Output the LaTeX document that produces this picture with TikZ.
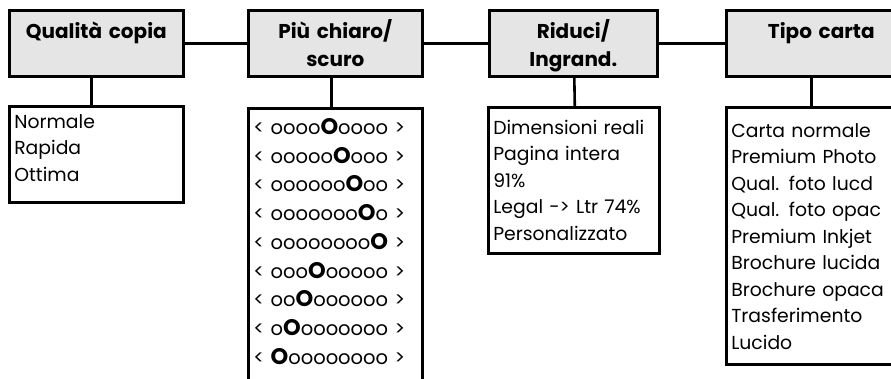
\documentclass[tikz,border=0pt]{standalone}
\usepackage{fontspec}
\setmainfont{Poppins}
\definecolor{headgray}{gray}{0.9}
\newcommand{\lvlO}{{\bfseries\fontsize{22.5}{0}\selectfont O}}

\begin{document}
\begin{tikzpicture}
  [x=1pt,y=-1pt,line width=2.6pt,
   head/.style={draw,fill=headgray,anchor=north west,align=center,
     inner xsep=4pt,inner ysep=0pt,text height=28pt,text depth=38pt,
     font=\bfseries\fontsize{20}{28}\selectfont},
   list/.style={draw,anchor=north west,align=left,inner xsep=5pt,inner ysep=0pt,
     font=\fontsize{18.8}{26.5}\selectfont}]
  \useasboundingbox (0,0) rectangle (891,378);

  \node[head,text width=166pt] (qual)   at (8,9)   {Qualità copia};
  \node[head,text width=166pt] (chiaro) at (247,9) {Più chiaro/\\scuro};
  \node[head,text width=160pt] (riduci) at (488,9) {Riduci/\\Ingrand.};
  \node[head,text width=182pt] (tipo)   at (725,9) {Tipo carta};

  \node[list,text width=164pt,text height=22pt,text depth=74pt] (qualsub) at (8,105)
    {Normale\\Rapida\\Ottima};
  \node[list,text width=164pt,text height=26pt,text depth=300pt,
    font=\fontsize{19.5}{28.75}\selectfont] (chiarosub) at (247,107)
    {< oooo\lvlO oooo >\\
     < ooooo\lvlO ooo >\\
     < oooooo\lvlO oo >\\
     < ooooooo\lvlO o >\\
     < oooooooo\lvlO{} >\\
     < ooo\lvlO ooooo >\\
     < oo\lvlO oooooo >\\
     < o\lvlO ooooooo >\\
     < \lvlO oooooooo >};
  \node[list,text width=161pt,text height=27pt,text depth=119pt] (ridsub) at (487,106)
    {Dimensioni reali\\Pagina intera\\91\%\\Legal -> Ltr 74\%\\Personalizzato};
  \node[list,text width=180pt,text height=30pt,text depth=227pt] (tiposub) at (725,106)
    {Carta normale\\Premium Photo\\Qual. foto lucd\\Qual. foto opac\\Premium Inkjet\\
     Brochure lucida\\Brochure opaca\\Trasferimento\\Lucido};

  \foreach \from/\to in {qual/chiaro,chiaro/riduci,riduci/tipo}
  \draw (\from) -- (\to);
  \foreach \from/\to/\dx in {qual/qualsub/-5,chiaro/chiarosub/-4,riduci/ridsub/1,tipo/tiposub/-10}
  \draw ([xshift=\dx pt]\from.south) -- ([xshift=\dx pt]\to.north);

\end{tikzpicture}
\end{document}
